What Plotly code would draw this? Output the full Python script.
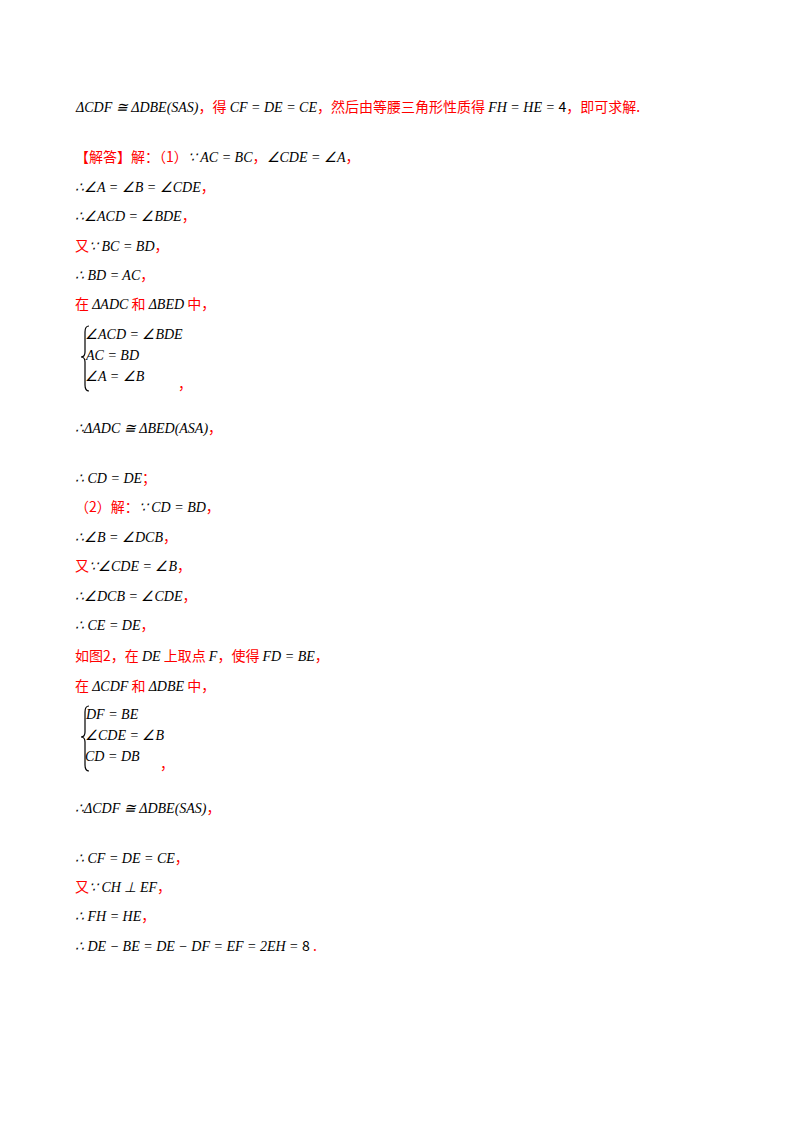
import plotly.graph_objects as go

RED = "#ff0000"
BLK = "#000000"

# each line: (y pixel, list of (text, colour, is_math))
lines = [
    (107, [("ΔCDF ≅ ΔDBE(SAS)", BLK, True), ("，得 ", RED, False), ("CF = DE = CE", BLK, True),
           ("，然后由等腰三角形性质得 ", RED, False), ("FH = HE = ", BLK, True), ("4", BLK, False),
           ("，即可求解.", RED, False)]),
    (157, [("【解答】解：（1）", RED, False), ("∵ AC = BC", BLK, True), ("，", RED, False),
           ("∠CDE = ∠A", BLK, True), ("，", RED, False)]),
    (187, [("∴∠A = ∠B = ∠CDE", BLK, True), ("，", RED, False)]),
    (216, [("∴∠ACD = ∠BDE", BLK, True), ("，", RED, False)]),
    (246, [("又", RED, False), ("∵ BC = BD", BLK, True), ("，", RED, False)]),
    (275, [("∴ BD = AC", BLK, True), ("，", RED, False)]),
    (304, [("在 ", RED, False), ("ΔADC", BLK, True), (" 和 ", RED, False), ("ΔBED", BLK, True), (" 中，", RED, False)]),
    (428, [("∴ΔADC ≅ ΔBED(ASA)", BLK, True), ("，", RED, False)]),
    (478, [("∴ CD = DE", BLK, True), ("；", RED, False)]),
    (507, [("（2）解：", RED, False), ("∵ CD = BD", BLK, True), ("，", RED, False)]),
    (537, [("∴∠B = ∠DCB", BLK, True), ("，", RED, False)]),
    (566, [("又", RED, False), ("∵∠CDE = ∠B", BLK, True), ("，", RED, False)]),
    (596, [("∴∠DCB = ∠CDE", BLK, True), ("，", RED, False)]),
    (625, [("∴ CE = DE", BLK, True), ("，", RED, False)]),
    (656, [("如图2，在 ", RED, False), ("DE", BLK, True), (" 上取点 ", RED, False), ("F", BLK, True),
           ("，使得 ", RED, False), ("FD = BE", BLK, True), ("，", RED, False)]),
    (686, [("在 ", RED, False), ("ΔCDF", BLK, True), (" 和 ", RED, False), ("ΔDBE", BLK, True), (" 中，", RED, False)]),
    (808, [("∴ΔCDF ≅ ΔDBE(SAS)", BLK, True), ("，", RED, False)]),
    (858, [("∴ CF = DE = CE", BLK, True), ("，", RED, False)]),
    (887, [("又", RED, False), ("∵ CH ⊥ EF", BLK, True), ("，", RED, False)]),
    (916, [("∴ FH = HE", BLK, True), ("，", RED, False)]),
    (946, [("∴ DE − BE = DE − DF = EF = 2EH = ", BLK, True), ("8", BLK, False), (" .", RED, False)]),
]

# systems of equations: (top y, rows, trailing comma x)
systems = [
    (335, ["∠ACD = ∠BDE", "AC = BD", "∠A = ∠B"], 178),
    (715, ["DF = BE", "∠CDE = ∠B", "CD = DB"], 160),
]

MATH_FONT = "Liberation Serif"
CJK_FONT = "Noto Sans CJK SC"
DX, DY = -10, -9  # annotation offset correction


def seg_html(text, colour, is_math):
    fam = MATH_FONT if is_math else CJK_FONT
    s = f"<span style='color:{colour};font-family:\"{fam}\"'>{text}</span>"
    return f"<i>{s}</i>" if is_math else s


fig = go.Figure()
anns = []
shapes = []
for y, segs in lines:
    anns.append(dict(x=75 + DX, y=y + DY, xref="x", yref="y", xanchor="left", yanchor="middle",
                     showarrow=False, text="".join(seg_html(*s) for s in segs),
                     font=dict(size=14, family=MATH_FONT)))

for top, rows, cx in systems:
    for i, r in enumerate(rows):
        anns.append(dict(x=85 + DX, y=top + i * 21 + DY, xref="x", yref="y", xanchor="left", yanchor="middle",
                         showarrow=False, text=f"<i>{r}</i>",
                         font=dict(size=14, family=MATH_FONT, color=BLK)))
    t, b, m = top - 17, top + 48, top + 14
    shapes.append(dict(type="path", xref="x", yref="y", line=dict(color=BLK, width=1.2),
                       path=f"M 81 {t} Q 77 {t} 77 {t+6} L 77 {m-5} Q 77 {m} 73 {m} "
                            f"Q 77 {m} 77 {m+5} L 77 {b-6} Q 77 {b} 81 {b}"))
    anns.append(dict(x=cx + DX, y=top + 49 + DY, xref="x", yref="y", xanchor="left", yanchor="middle",
                     showarrow=False, text="，", font=dict(size=14, family=CJK_FONT, color=RED)))

fig.update_layout(
    width=800, height=1132, margin=dict(l=0, r=0, t=0, b=0),
    paper_bgcolor="white", plot_bgcolor="white", annotations=anns, shapes=shapes,
    xaxis=dict(range=[0, 800], visible=False, fixedrange=True),
    yaxis=dict(range=[1132, 0], visible=False, fixedrange=True),
    showlegend=False,
)
fig.write_html("out.html", config={"displayModeBar": False})
